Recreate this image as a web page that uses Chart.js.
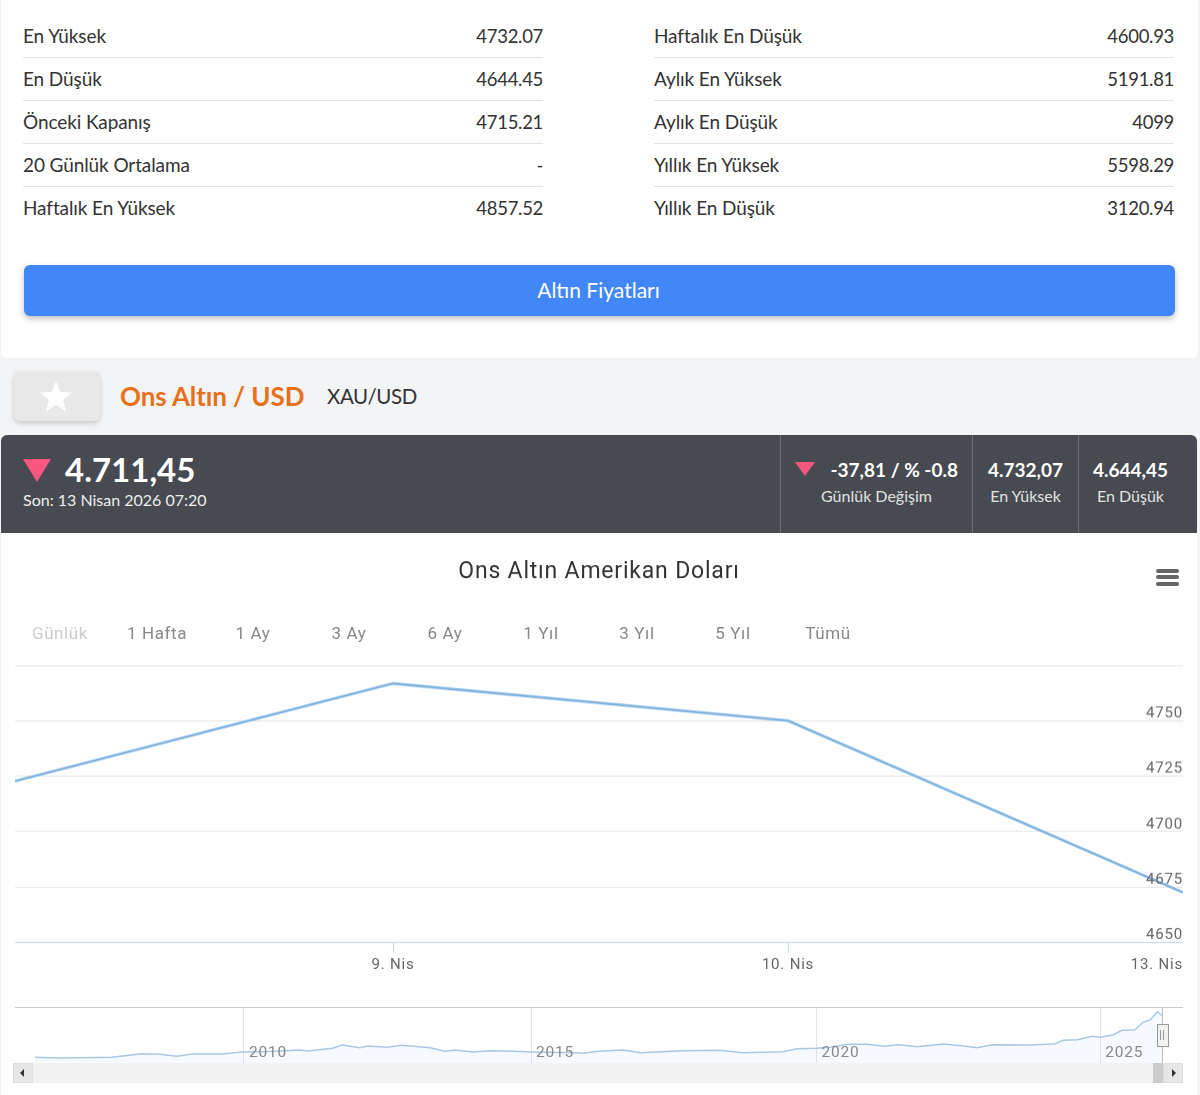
<!DOCTYPE html>
<html lang="tr">
<head>
<meta charset="utf-8">
<title>Ons Altın</title>
<script src="https://cdn.jsdelivr.net/npm/chart.js@4"></script>
<style>
  html, body { margin: 0; padding: 0; }
  body { width: 1200px; height: 1095px; position: relative; overflow: hidden; background: #f3f4f6; font-family: Lato, sans-serif; color: #333; }
  .abs { position: absolute; white-space: nowrap; }
  #card { left: 1px; top: 0; width: 1197px; height: 358px; background: #fff; border-radius: 0 0 6px 6px; }
  #bottom { left: 1px; top: 533px; width: 1196px; height: 562px; background: #fff; }
  #head { left: 1px; top: 435px; width: 1196px; height: 98px; background: #474a51; border-radius: 6px 6px 0 0; }
  .row { height: 42px; line-height: 42px; font-size: 19px; letter-spacing: -.1px; width: 520px; border-bottom: 1px solid #e3e3e3; display: flex; justify-content: space-between; }
  .row.last { border-bottom: none; }
  .row .val { font-size: 18.5px; letter-spacing: -.3px; }
  #btn { left: 24px; top: 265px; width: 1151px; height: 51px; line-height: 50px; background: #4287f9; border-radius: 6px; color: #fff; text-align: center; font-size: 21px; text-indent: -2px; box-shadow: 0 3px 6px rgba(0,0,0,.25); }
  #star { left: 14px; top: 372px; width: 86px; height: 49px; background: #e8e8e8; border-radius: 6px; box-shadow: 0 2px 5px rgba(0,0,0,.2); }
  .tri { width: 0; height: 0; border-style: solid; border-color: #f8567f transparent transparent transparent; }
  .sep { top: 435px; width: 1px; height: 98px; background: #6b6e74; }
  .big { color: #fff; font-weight: 700; font-size: 19px; text-align: center; }
  .small { color: #e2e2e2; font-size: 16px; text-align: center; }
  .range { top: 623px; font-family: Roboto, sans-serif; font-size: 17px; letter-spacing: .6px; color: #888; transform: translateX(-50%); }
  .bar { left: 1156px; width: 23px; height: 4px; border-radius: 2px; background: #666; }
  canvas { display: block; }
</style>
</head>
<body>
<div class="abs" id="card"></div>
<div class="abs" id="head"></div>
<div class="abs" id="bottom"></div>
<div class="abs" id="leftRows" style="left:23px;top:15px"></div>
<div class="abs" id="rightRows" style="left:654px;top:15px"></div>
<div class="abs" id="btn">Altın Fiyatları</div>

<div class="abs" id="star">
  <svg width="86" height="49" viewBox="0 0 86 49"><polygon fill="#fff" points="42,9 46.5,20 58,20.5 49,28 52,39.5 42,33 32,39.5 35,28 26,20.5 37.5,20"/></svg>
</div>
<div class="abs" style="left:120px;top:380px;font-size:26px;letter-spacing:-.1px;font-weight:700;color:#e8701a">Ons Altın / USD</div>
<div class="abs" style="left:327px;top:384px;font-size:20.5px;letter-spacing:-.4px">XAU/USD</div>

<div class="abs tri" style="left:23px;top:459px;border-width:23px 14.5px 0 14.5px"></div>
<div class="abs" style="left:65px;top:449px;font-size:33px;font-weight:700;color:#fff">4.711,45</div>
<div class="abs" style="left:23px;top:490px;font-size:16px;color:#eee">Son: 13 Nisan 2026 07:20</div>
<div class="abs sep" style="left:780px"></div>
<div class="abs sep" style="left:972px"></div>
<div class="abs sep" style="left:1078px"></div>
<div class="abs tri" style="left:795px;top:462px;border-width:14px 10px 0 10px"></div>
<div class="abs big" style="left:782px;width:176px;top:458px;text-align:right">-37,81 / % -0.8</div>
<div class="abs small" style="left:781px;width:191px;top:486px">Günlük Değişim</div>
<div class="abs big" style="left:973px;width:105px;top:458px">4.732,07</div>
<div class="abs small" style="left:973px;width:105px;top:486px">En Yüksek</div>
<div class="abs big" style="left:1079px;width:103px;top:458px">4.644,45</div>
<div class="abs small" style="left:1079px;width:103px;top:486px">En Düşük</div>

<div class="abs" id="mainWrap" style="left:15px;top:540px;width:1168px;height:437.5px"><canvas id="mainChart"></canvas></div>
<div class="abs bar" style="top:569px"></div>
<div class="abs bar" style="top:575px"></div>
<div class="abs bar" style="top:582px"></div>
<div id="ranges"></div>

<div class="abs" style="left:15px;top:1007px;width:1168px;height:1px;background:#ccc"></div>
<div class="abs" id="navWrap" style="left:15px;top:1008px;width:1168px;height:55px"><canvas id="navChart"></canvas></div>
<div class="abs" style="left:1162px;top:1008px;width:1px;height:55px;background:#bbb"></div>
<div class="abs" style="left:1157px;top:1024px;width:10px;height:21px;background:#f2f2f2;border:1px solid #999"></div>
<div class="abs" style="left:1160px;top:1030px;width:1px;height:10px;background:#999"></div>
<div class="abs" style="left:1163px;top:1030px;width:1px;height:10px;background:#999"></div>
<div class="abs" style="left:15px;top:1063px;width:1168px;height:20px;background:#f2f2f2"></div>
<div class="abs" style="left:13px;top:1063px;width:20px;height:20px;background:#e6e6e6;border:1px solid #ddd;box-sizing:border-box"></div>
<div class="abs" style="left:1153px;top:1063px;width:10px;height:20px;background:#ccc"></div>
<div class="abs" style="left:1163px;top:1063px;width:20px;height:20px;background:#e6e6e6;border:1px solid #ddd;box-sizing:border-box"></div>
<div class="abs" style="left:20px;top:1069px;border-style:solid;border-width:4px 4px 4px 0;border-color:transparent #333 transparent transparent"></div>
<div class="abs" style="left:1172px;top:1069px;border-style:solid;border-width:4px 0 4px 4px;border-color:transparent transparent transparent #333"></div>

<script>
// tablo
const leftLabels = ["En Yüksek", "En Düşük", "Önceki Kapanış", "20 Günlük Ortalama", "Haftalık En Yüksek"];
const leftValues = ["4732.07", "4644.45", "4715.21", "-", "4857.52"];
const rightLabels = ["Haftalık En Düşük", "Aylık En Yüksek", "Aylık En Düşük", "Yıllık En Yüksek", "Yıllık En Düşük"];
const rightValues = ["4600.93", "5191.81", "4099", "5598.29", "3120.94"];

// range buttons
const rangeLabels = ["Günlük", "1 Hafta", "1 Ay", "3 Ay", "6 Ay", "1 Yıl", "3 Yıl", "5 Yıl", "Tümü"];
const rangeCenters = [60, 157, 253, 349, 445, 541, 637, 733, 828];

// main chart, x is an ordinal day index (9. Nis = 1)
const dayPositions = [0.043, 1, 2, 3];
const prices = [4722.8, 4766.8, 4750, 4672.6];
const dayTicks = [0.043, 1, 2, 3];
const dayTickLabels = ["", "9. Nis", "10. Nis", "13. Nis"];
const priceTicks = [4650, 4675, 4700, 4725, 4750, 4775];

// navigator
const navYears = [2006.34, 2006.74, 2007.69, 2008.21, 2008.53, 2008.83, 2009.09, 2009.61, 2009.96, 2010.42, 2010.98, 2011.12, 2011.56, 2011.72, 2011.86, 2012.03, 2012.17, 2012.51, 2012.77, 2013.26, 2013.52, 2013.7, 2014.01, 2014.31, 2014.71, 2015.06, 2015.83, 2015.94, 2016.2, 2016.64, 2016.94, 2017.69, 2018.34, 2018.74, 2019.44, 2019.69, 2020.04, 2020.27, 2020.58, 2020.92, 2021.23, 2021.46, 2021.79, 2022.25, 2022.58, 2022.84, 2023.12, 2023.77, 2024.21, 2024.35, 2024.6, 2024.86, 2025.0, 2025.23, 2025.38, 2025.61, 2025.75, 2025.88, 2026.0, 2026.09];
const navPrices = [681, 604, 681, 1072, 1007, 790, 1040, 1040, 1257, 1300, 1475, 1366, 1660, 2051, 1875, 1725, 1910, 1770, 1985, 1725, 1333, 1475, 1257, 1400, 1333, 1257, 1180, 1115, 1333, 1475, 1180, 1400, 1440, 1180, 1290, 1615, 1660, 1770, 2095, 2095, 1875, 2051, 1830, 2127, 1942, 1725, 2051, 2020, 2160, 2530, 2595, 2960, 2855, 3140, 3615, 3680, 4485, 4770, 5640, 5170];
const navTicks = [2010, 2015.03, 2020.03, 2025];
const navTickLabels = ["2010", "2015", "2020", "2025"];

function fillRows(el, labels, values) {
  labels.forEach((l, i) => {
    const r = document.createElement("div");
    r.className = "row" + (i === labels.length - 1 ? " last" : "");
    const a = document.createElement("span");
    a.textContent = l;
    const b = document.createElement("span");
    b.className = "val";
    b.textContent = values[i];
    r.append(a, b);
    el.append(r);
  });
}
fillRows(document.getElementById("leftRows"), leftLabels, leftValues);
fillRows(document.getElementById("rightRows"), rightLabels, rightValues);

rangeLabels.forEach((l, i) => {
  const s = document.createElement("div");
  s.className = "abs range";
  s.style.left = rangeCenters[i] + "px";
  if (i === 0) s.style.color = "#ccc";
  s.textContent = l;
  document.getElementById("ranges").append(s);
});

Chart.defaults.font.family = "Roboto, sans-serif";
Chart.defaults.animation = false;

const spacing = { id: "spacing", beforeDraw(c) { c.ctx.letterSpacing = "0.8px"; } };

new Chart(document.getElementById("mainChart"), {
  type: "line",
  plugins: [spacing],
  data: {
    datasets: [{
      data: dayPositions.map((x, i) => ({ x: x, y: prices[i] })),
      borderColor: "#7fb3e0",
      borderWidth: 2.5,
      pointRadius: 0,
      tension: 0
    }]
  },
  options: {
    responsive: true,
    maintainAspectRatio: false,
    layout: { padding: 0, autoPadding: false },
    plugins: {
      legend: { display: false },
      tooltip: { enabled: false },
      title: {
        display: true,
        text: "Ons Altın Amerikan Doları",
        color: "#333",
        font: { size: 23, weight: "normal" },
        padding: { top: 18, bottom: 79.4 }
      }
    },
    scales: {
      x: {
        type: "linear",
        min: dayPositions[0],
        max: dayPositions[dayPositions.length - 1],
        afterBuildTicks: s => { s.ticks = dayTicks.map(v => ({ value: v })); },
        // ticks.padding would otherwise inset the plot on both sides
        afterFit: s => { s.paddingLeft = 0; s.paddingRight = 0; },
        border: { color: "#ccd6eb" },
        grid: {
          drawOnChartArea: false,
          tickLength: 10,
          tickColor: c => (c.index === 0 ? "transparent" : "#ccd6eb")
        },
        ticks: {
          autoSkip: false,
          maxRotation: 0,
          align: "inner",
          padding: 4,
          color: "#666",
          font: { size: 15 },
          callback: (v, i) => dayTickLabels[i]
        }
      },
      y: {
        type: "linear",
        position: "right",
        min: priceTicks[0],
        max: priceTicks[priceTicks.length - 1],
        afterBuildTicks: s => { s.ticks = priceTicks.map(v => ({ value: v })); },
        border: { display: false },
        grid: { color: "#e6e6e6", drawTicks: false },
        ticks: {
          mirror: true,
          z: 1,
          padding: 0,
          labelOffset: -7,
          color: "#666",
          font: { size: 15 },
          callback: v => (v === 4775 ? "" : String(v))
        }
      }
    }
  }
});

new Chart(document.getElementById("navChart"), {
  type: "line",
  plugins: [spacing],
  data: {
    datasets: [{
      data: navYears.map((x, i) => ({ x: x, y: navPrices[i] })),
      borderColor: "#a9c8e4",
      borderWidth: 1.5,
      backgroundColor: "rgba(124,181,236,.07)",
      fill: "origin",
      pointRadius: 0,
      tension: 0
    }]
  },
  options: {
    responsive: true,
    maintainAspectRatio: false,
    layout: { padding: 0, autoPadding: false },
    plugins: { legend: { display: false }, tooltip: { enabled: false } },
    scales: {
      x: {
        type: "linear",
        min: 2005.99,
        max: 2026.45,
        afterBuildTicks: s => { s.ticks = navTicks.map(v => ({ value: v })); },
        afterFit: s => { s.height = 0; s.paddingLeft = 0; s.paddingRight = 0; },
        border: { display: false },
        grid: { color: "#e6e6e6", drawTicks: false },
        ticks: {
          mirror: true,
          z: 1,
          autoSkip: false,
          maxRotation: 0,
          padding: 1,
          labelOffset: 24,
          color: "#888",
          font: { size: 15.5 },
          callback: (v, i) => navTickLabels[i]
        }
      },
      y: { display: false, min: 60, max: 6040 }
    }
  }
});
</script>
</body>
</html>
